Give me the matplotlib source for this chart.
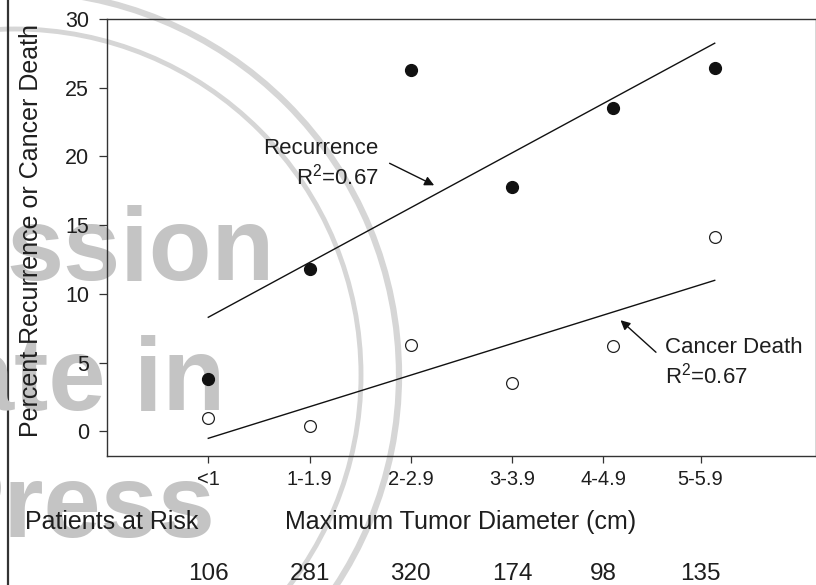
import numpy as np
import matplotlib
matplotlib.use("Agg")
import matplotlib.pyplot as plt
from matplotlib.patches import Circle

plt.rcParams['font.family'] = ['Liberation Sans', 'DejaVu Sans']
plt.rcParams['mathtext.fontset'] = 'custom'
plt.rcParams['mathtext.rm'] = 'Liberation Sans'
plt.rcParams['mathtext.it'] = 'Liberation Sans:italic'
plt.rcParams['mathtext.bf'] = 'Liberation Sans:bold'

# ---- data ----
categories = ['<1', '1-1.9', '2-2.9', '3-3.9', '4-4.9', '5-5.9']
recurrence = [3.8, 11.8, 26.3, 17.8, 23.5, 26.4]
cancer_death = [0.95, 0.36, 6.3, 3.5, 6.2, 14.1]
patients_at_risk = [106, 281, 320, 174, 98, 135]
r2_recurrence = 0.67
r2_death = 0.67

# ---- layout ----
W, H = 816, 585
fig = plt.figure(figsize=(W / 100, H / 100), dpi=100)

# background (watermark / page decoration)
bg = fig.add_axes([0, 0, 1, 1], zorder=0)
bg.set_xlim(0, W)
bg.set_ylim(H, 0)
bg.axis('off')
wm_col = '#c4c4c4'
for r, lw in [(384, 4.5), (346, 3.5)]:
    bg.add_patch(Circle((15, 375), r, fill=False, ec='#d6d6d6', lw=lw))
wm_kw = dict(color=wm_col, fontsize=74, fontweight='bold', ha='right', va='baseline')
bg.text(275, 280, 'ssion', **wm_kw)
bg.text(225, 410, 'ate in', **wm_kw)
bg.text(215, 537, 'Press', **wm_kw)
bg.plot([8, 8], [0, H], color='#333333', lw=1.6)

x = np.arange(1, len(categories) + 1)
tick_pos = [1, 2, 3, 4, 4.9, 5.86]

ax = fig.add_axes([107 / W, 1 - 456 / H, 1 - 107 / W, (456 - 19) / H], zorder=1)
ax.set_facecolor('none')
ax.set_xlim(0, 7)
ax.set_ylim(-1.8, 30)

txt = '#1e1e1e'
for s in ax.spines.values():
    s.set_color('#333333')
    s.set_linewidth(1.0)

# regression lines
for vals in (recurrence, cancer_death):
    k, b = np.polyfit(x, vals, 1)
    ax.plot([x[0], x[-1]], [k * x[0] + b, k * x[-1] + b], color='#111111', lw=1.0, zorder=2)

ax.plot(x, recurrence, 'o', ms=8.5, color='#111111', zorder=3)
ax.plot(x, cancer_death, 'o', ms=8.5, mfc='white', mec='#222222', mew=0.9, zorder=3)

ax.set_yticks(np.arange(0, 31, 5))
ax.set_xticks(tick_pos)
ax.set_xticklabels(categories)
ax.tick_params(axis='y', direction='out', length=6, width=0.9, pad=7,
               labelsize=15.5, colors='#333333', labelcolor=txt)
ax.tick_params(axis='x', direction='out', length=5, width=0.9, pad=5,
               labelsize=14.5, colors='#333333', labelcolor=txt)

fig.text(31 / W, 1 - 231 / H, 'Percent Recurrence or Cancer Death', rotation=90,
         ha='center', va='center', fontsize=18, color=txt)

# annotations
r2 = r'R$^\mathregular{2}$'
ax.text(2.68, 20.6, 'Recurrence', ha='right', va='center', fontsize=16, color=txt)
ax.text(2.68, 18.5, f'{r2}={r2_recurrence:.2f}', ha='right', va='center', fontsize=16, color=txt)
ax.annotate('', xy=(3.23, 17.9), xytext=(2.79, 19.5),
            arrowprops=dict(arrowstyle='-|>', color='#111111', lw=1.0, mutation_scale=14,
                            shrinkA=0, shrinkB=0))
ax.text(5.51, 6.12, 'Cancer Death', ha='left', va='center', fontsize=16, color=txt)
ax.text(5.51, 4.08, f'{r2}={r2_death:.2f}', ha='left', va='center', fontsize=16, color=txt)
ax.annotate('', xy=(5.07, 8.08), xytext=(5.42, 5.75),
            arrowprops=dict(arrowstyle='-|>', color='#111111', lw=1.0, mutation_scale=14,
                            shrinkA=0, shrinkB=0))

# bottom texts
fig.text(25 / W, 1 - 522 / H, 'Patients at Risk', ha='left', va='center', fontsize=18, color=txt)
fig.text(461 / W, 1 - 522 / H, 'Maximum Tumor Diameter (cm)', ha='center', va='center',
         fontsize=18, color=txt)
trans = matplotlib.transforms.blended_transform_factory(ax.transData, fig.transFigure)
for p, n in zip(tick_pos, patients_at_risk):
    ax.text(p, 1 - 574 / H, str(n), transform=trans, ha='center', va='center',
            fontsize=17.5, color=txt, clip_on=False)

fig.savefig('out.png', dpi=100)
